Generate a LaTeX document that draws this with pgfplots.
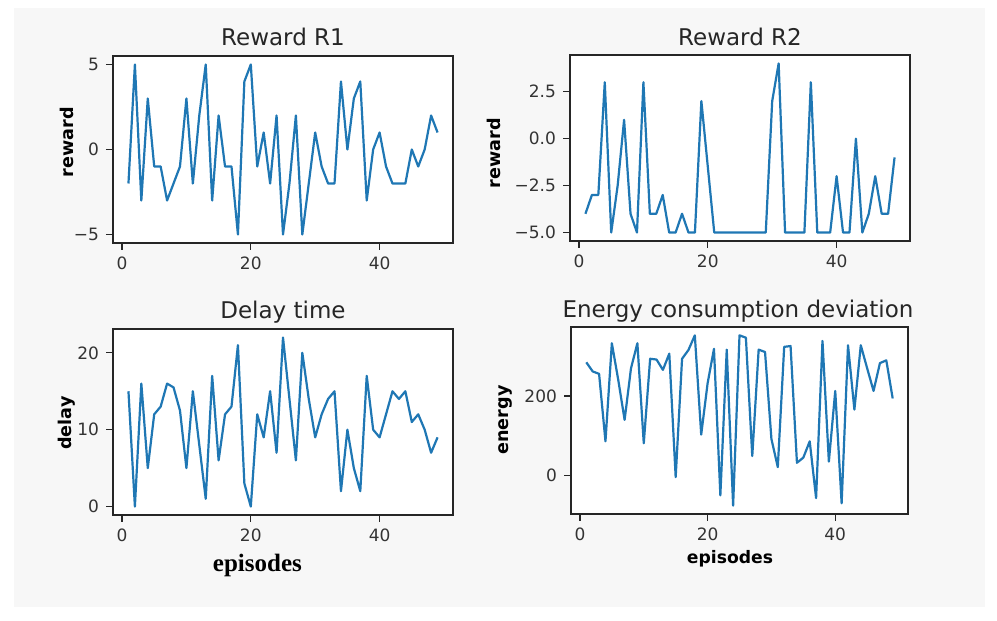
\documentclass[border=0pt]{standalone}
\usepackage{fontspec}
\setmainfont{DejaVu Sans}
\newfontfamily\serifb{Liberation Serif}
\usepackage{pgfplots}
\pgfplotsset{compat=1.18}
\definecolor{mplblue}{HTML}{1F77B4}
\definecolor{bgpanel}{HTML}{F7F7F7}

\pgfplotsset{
  panel/.style={
    scale only axis, width=170pt, height=93pt,
    anchor=south west,
    xmin=-1.4, xmax=51.4,
    xtick={0,20,40}, xticklabels={0,20,40},
    tick align=outside, tick pos=left,
    major tick length=3.5pt,
    axis line style={black!85, line width=0.6pt},
    every tick/.style={black!85, line width=0.6pt},
    tick label style={font=\fontsize{8.5}{10}\selectfont, text=black!80},
    axis background/.style={fill=white},
  },
  curve/.style={mplblue, line width=1.1pt, no markers, line join=round},
}

\begin{document}
\begin{tikzpicture}
\fill[white] (0,0) rectangle (498.5pt,310.5pt);
\fill[bgpanel] (7pt,7pt) rectangle (492.5pt,306.5pt);

% Reward R1
\begin{axis}[panel, at={(56.5pt,189pt)}, width=170pt, height=93.5pt,
  ymin=-5.5, ymax=5.5, ytick={-5,0,5}, yticklabels={−5,0,5}]
\addplot[curve] coordinates {
(1,-2)(2,5)(3,-3)(4,3)(5,-1)(6,-1)(7,-3)(8,-2)(9,-1)(10,3)
(11,-2)(12,2)(13,5)(14,-3)(15,2)(16,-1)(17,-1)(18,-5)(19,4)(20,5)
(21,-1)(22,1)(23,-2)(24,2)(25,-5)(26,-2)(27,2)(28,-5)(29,-2)(30,1)
(31,-1)(32,-2)(33,-2)(34,4)(35,0)(36,3)(37,4)(38,-3)(39,0)(40,1)
(41,-1)(42,-2)(43,-2)(44,-2)(45,0)(46,-1)(47,0)(48,2)(49,1)
};
\end{axis}

% Reward R2
\begin{axis}[panel, at={(285pt,190pt)}, width=170pt, height=93pt,
  ymin=-5.45, ymax=4.45, ytick={-5,-2.5,0,2.5}, yticklabels={−5.0,−2.5,0.0,2.5}]
\addplot[curve] coordinates {
(1,-4)(2,-3)(3,-3)(4,3)(5,-5)(6,-2.5)(7,1)(8,-4)(9,-5)(10,3)
(11,-4)(12,-4)(13,-3)(14,-5)(15,-5)(16,-4)(17,-5)(18,-5)(19,2)(20,-1.5)
(21,-5)(22,-5)(23,-5)(24,-5)(25,-5)(26,-5)(27,-5)(28,-5)(29,-5)(30,2)
(31,4)(32,-5)(33,-5)(34,-5)(35,-5)(36,3)(37,-5)(38,-5)(39,-5)(40,-2)
(41,-5)(42,-5)(43,0)(44,-5)(45,-4)(46,-2)(47,-4)(48,-4)(49,-1)
};
\end{axis}

% Delay time
\begin{axis}[panel, at={(56.5pt,53pt)}, width=170pt, height=93pt,
  ymin=-1.1, ymax=23.1, ytick={0,10,20}, yticklabels={0,10,20}]
\addplot[curve] coordinates {
(1,15)(2,0)(3,16)(4,5)(5,12)(6,13)(7,16)(8,15.5)(9,12.5)(10,5)
(11,15)(12,8)(13,1)(14,17)(15,6)(16,12)(17,13)(18,21)(19,3)(20,0)
(21,12)(22,9)(23,15)(24,7)(25,22)(26,14)(27,6)(28,20)(29,14)(30,9)
(31,12)(32,14)(33,15)(34,2)(35,10)(36,5)(37,2)(38,17)(39,10)(40,9)
(41,12)(42,15)(43,14)(44,15)(45,11)(46,12)(47,10)(48,7)(49,9)
};
\end{axis}

% Energy consumption deviation
\begin{axis}[panel, at={(285.5pt,53.5pt)}, width=168.5pt, height=93.5pt,
  ymin=-97, ymax=374, ytick={0,200}, yticklabels={0,200}]
\addplot[curve] coordinates {
(1,285)(2,262)(3,256)(4,86)(5,333)(6,241)(7,140)(8,270)(9,333)(10,81)
(11,294)(12,292)(13,266)(14,307)(15,-4)(16,294)(17,316)(18,353)(19,103)(20,232)
(21,319)(22,-50)(23,317)(24,-76)(25,353)(26,347)(27,49)(28,317)(29,311)(30,92)
(31,21)(32,324)(33,326)(34,32)(35,45)(36,86)(37,-57)(38,339)(39,35)(40,213)
(41,-70)(42,328)(43,166)(44,328)(45,270)(46,213)(47,283)(48,290)(49,194)
};
\end{axis}

% titles
\node[anchor=base, font=\fontsize{11.5}{13}\selectfont, text=black!85] at (141.5pt,287.5pt) {Reward R1};
\node[anchor=base, font=\fontsize{11.5}{13}\selectfont, text=black!85] at (370pt,287.5pt) {Reward R2};
\node[anchor=base, font=\fontsize{11.5}{13}\selectfont, text=black!85] at (141.5pt,151pt) {Delay time};
\node[anchor=base, font=\fontsize{11.5}{13}\selectfont, text=black!85] at (369pt,151.5pt) {Energy consumption deviation};

% y labels
\node[rotate=90, font=\bfseries\fontsize{8.8}{10}\selectfont] at (33.5pt,239.5pt) {reward};
\node[rotate=90, font=\bfseries\fontsize{8.8}{10}\selectfont] at (247.2pt,234pt) {reward};
\node[rotate=90, font=\bfseries\fontsize{8.8}{10}\selectfont] at (33.5pt,99pt) {delay};
\node[rotate=90, font=\bfseries\fontsize{8.8}{10}\selectfont] at (252.5pt,100.5pt) {energy};

% x labels
\node[font=\serifb\bfseries\fontsize{12.5}{14}\selectfont] at (128.7pt,28pt) {episodes};
\node[font=\bfseries\fontsize{8.6}{10}\selectfont] at (365pt,31pt) {episodes};
\end{tikzpicture}
\end{document}
